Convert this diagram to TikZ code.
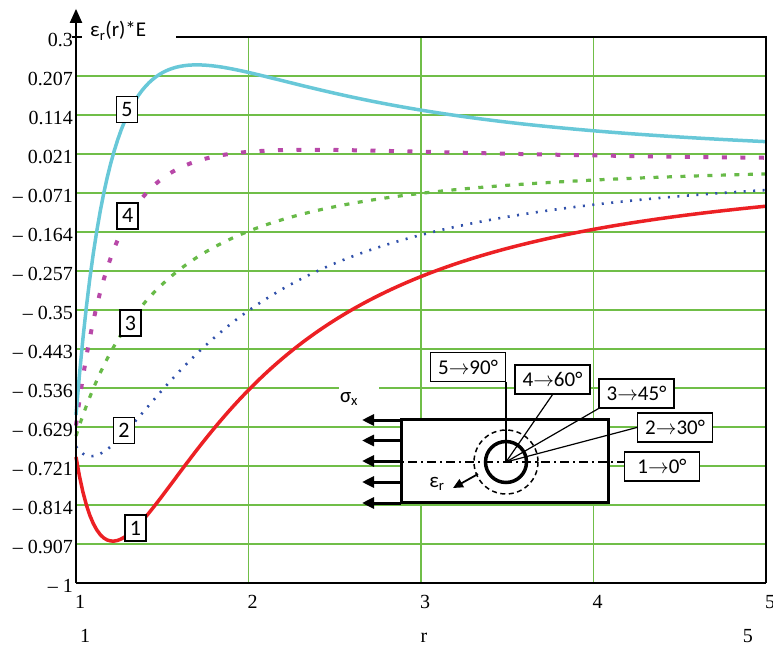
\documentclass[tikz,border=0pt]{standalone}
\usepackage{fontspec}
\setmainfont{Liberation Serif}
\newfontfamily\numfont{Liberation Serif}
\newfontfamily\labelfont{Carlito}
\usetikzlibrary{arrows.meta,positioning,calc}

\definecolor{gridgreen}{RGB}{112,190,72}
\definecolor{curvered}{RGB}{236,32,36}
\definecolor{curveblue}{RGB}{48,80,170}
\definecolor{curvegreen}{RGB}{104,186,72}
\definecolor{curvemagenta}{RGB}{184,72,168}
\definecolor{curvecyan}{RGB}{104,200,216}

\begin{document}
\begin{tikzpicture}[
    x=1pt, y=-1pt,
    font=\numfont\fontsize{20}{24}\selectfont,
    gridline/.style={gridgreen, line width=1.6pt},
    numlab/.style={inner sep=0pt, font=\numfont\fontsize{20}{24}\selectfont},
    curvetag/.style={draw=black, fill=white, line width=1.3pt, inner sep=2pt, font=\labelfont\fontsize{22}{24}\selectfont, minimum width=21pt, minimum height=26pt},
    angletag/.style={draw=black, fill=white, line width=1.3pt, inner sep=2pt, font=\labelfont\fontsize{21}{24}\selectfont, minimum width=75pt, minimum height=29pt},
    th0/.style={curvered, line width=3.5pt},
    th30/.style={curveblue, line width=2.6pt, dash pattern=on 2pt off 7.5pt},
    th45/.style={curvegreen, line width=3.2pt, dash pattern=on 5pt off 8.5pt},
    th60/.style={curvemagenta, line width=4pt, dash pattern=on 5pt off 13.5pt},
    th90/.style={curvecyan, line width=3.5pt},
    load/.style={line width=3pt, -{Triangle[length=12pt,width=11pt]}}
  ]
    \useasboundingbox (0,0) rectangle (773,645);
    % Plot of the released strain, r from 1 to 5
    \begin{scope}[shift={(76,583)}, x=172.5pt, y=420pt, shift={(-1,1)}]
      % grid
      \foreach \i in {1,...,13}
        \draw[gridline] (1,{0.3-\i*1.3/14}) -- (5,{0.3-\i*1.3/14});
      \foreach \r in {2,3,4}
        \draw[gridline] (\r,-1) -- (\r,0.3);
      % curves for theta = 60, 45, 30, 0, 90 deg
      \foreach \c/\sty in {-0.5/th60, 0/th45, 0.5/th30, 1/th0, -1/th90}
        \draw[\sty] plot[domain=1:5, samples=200] (\x, {-(0.65+2*(\c))/(\x*\x) + 1.95*(\c)/(\x*\x*\x*\x)});
      % axes and frame
      \draw[line width=1.6pt] (1,-1) -- (5,-1);
      \draw[line width=1.6pt] (1.58,0.3) -- (5,0.3) -- (5,-1);
      \draw[line width=1.5pt] ([xshift=-4pt]1,0.3) -- ([xshift=6pt]1,0.3);
      \draw[line width=2pt, -{Triangle[length=14pt,width=12pt]}] (1,-1) -- (1,0.367);
      % tick labels
      \foreach \i/\lab in {0/0.3, 1/0.207, 2/0.114, 3/0.021, 4/– 0.071, 5/– 0.164, 6/– 0.257, 7/– 0.35,
                           8/– 0.443, 9/– 0.536, 10/– 0.629, 11/– 0.721, 12/– 0.814, 13/– 0.907, 14/– 1}
        \node[numlab, anchor=base east] (ylab\i) at ([xshift=-3pt, yshift=-9.5pt]1,{0.3-\i*1.3/14}) {\lab};
      \foreach \r in {1,...,5}
        \node[numlab, anchor=base west] (xlab\r) at ([xshift=-1pt, yshift=-25pt]\r,-1) {\r};
      \node[numlab, anchor=base west] (rmin) at ([xshift=4pt, yshift=-59pt]1,-1) {1};
      \node[numlab, anchor=base] (rname) at ([xshift=3pt, yshift=-59pt]3,-1) {r};
      \node[numlab, anchor=base east] (rmax) at ([xshift=-13pt, yshift=-59pt]5,-1) {5};
      \node[numlab, anchor=base west, font=\labelfont\fontsize{21}{24}\selectfont] (ylabel) at ([xshift=14pt]1,0.3) {ε\textsubscript{r}(r)*E};
      % curve numbers
      \node[curvetag] (tag1) at (1.345,-0.869) {1};
      \node[curvetag] (tag2) at (1.278,-0.637) {2};
      \node[curvetag] (tag3) at (1.316,-0.381) {3};
      \node[curvetag] (tag4) at (1.299,-0.126) {4};
      \node[curvetag] (tag5) at (1.296,0.127) {5};
    \end{scope}
    % Plate with a hole, loaded on its left edge
    \node[fill=white, inner sep=0pt, minimum width=40pt, minimum height=28pt, text width=38pt, align=left,
          font=\labelfont\fontsize{21}{24}\selectfont] (sigma) at (359,399) {σ\textsubscript{x}};
    \draw[line width=3pt, fill=white] (401,419) rectangle (608,502);
    \coordinate (hole) at (506,462);
    \foreach \y [count=\k] in {420,440.5,461,482,503} {
      \coordinate (edge\k) at (401,\y);
      \coordinate (tip\k) at (362,\y);
      \draw[load] (edge\k) -- (tip\k);
    }
    \node[angletag] (l5) at (468,367) {5$\rightarrow$90°};
    \node[angletag] (l4) at (552.5,379.5) {4$\rightarrow$60°};
    \node[angletag] (l3) at (636.5,393.5) {3$\rightarrow$45°};
    \node[angletag] (l2) at (675,427.5) {2$\rightarrow$30°};
    \node[angletag] (l1) at (662,466.5) {1$\rightarrow$0°};
    \coordinate (axisstart) at (389,462);
    \draw[line width=1.8pt, dash pattern=on 9pt off 4pt on 2pt off 4pt] (axisstart) -- (hole -| l1.west);
    \draw[line width=3.5pt] (hole) circle[radius=20.5];
    \draw[line width=1.5pt, dash pattern=on 5pt off 3.5pt] (hole) circle[radius=32];
    \draw[line width=1.2pt] (hole) -- (hole |- l5.south);
    \draw[line width=1.2pt] (hole) -- (l4.south);
    \draw[line width=1.2pt] (hole) -- (l3.south west);
    \draw[line width=1.2pt] (hole) -- (l2.west);
    \coordinate (erstart) at (478,474);
    \coordinate (ertip) at (453,488);
    \draw[line width=1.8pt, -{Triangle[length=10pt,width=9pt]}] (erstart) -- (ertip);
    \node[font=\labelfont\fontsize{21}{24}\selectfont, inner sep=0pt] (er) at (437,484) {ε\textsubscript{r}};
\end{tikzpicture}
\end{document}
